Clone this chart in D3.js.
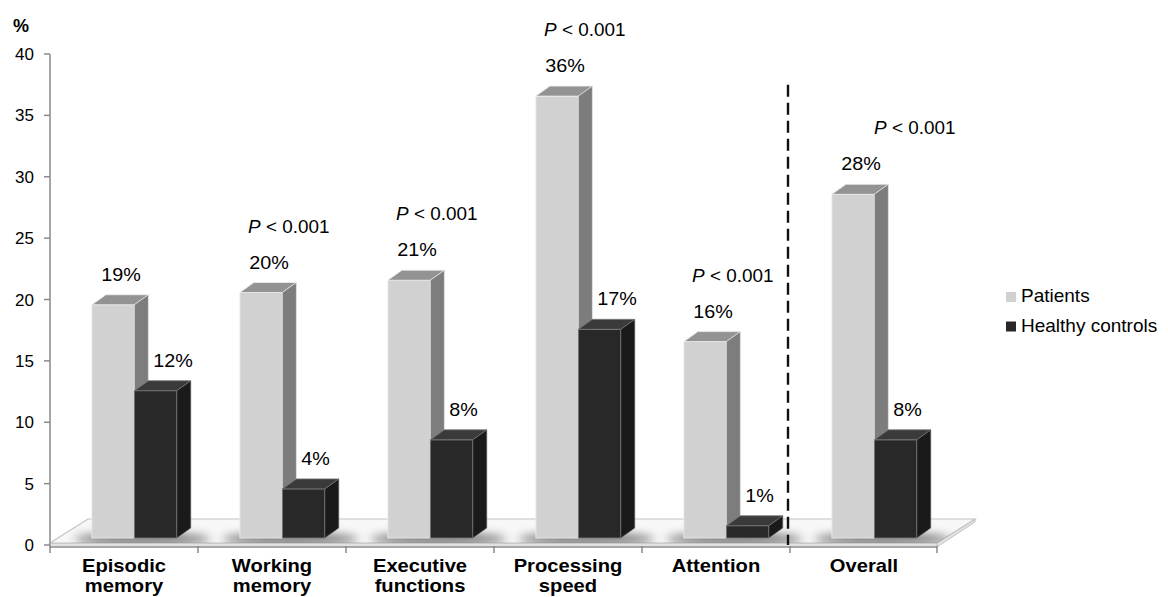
<!DOCTYPE html>
<html>
<head>
<meta charset="utf-8">
<script src="https://cdn.jsdelivr.net/npm/d3@7"></script>
<style>
  html, body { margin: 0; padding: 0; background: #fff; }
  svg { display: block; font-family: "Liberation Sans", Arial, sans-serif; }
</style>
</head>
<body>
<svg id="chart" width="1168" height="597"></svg>
<script>
// Cognitive impairment rates by domain
const categories = ["Episodic memory", "Working memory", "Executive functions", "Processing speed", "Attention", "Overall"];
const patients = [19, 20, 21, 36, 16, 28];
const controls = [12, 4, 8, 17, 1, 8];
const pLabels = [null, "< 0.001", "< 0.001", "< 0.001", "< 0.001", "< 0.001"];
const yTicks = [0, 5, 10, 15, 20, 25, 30, 35, 40];
const seriesNames = ["Patients", "Healthy controls"];

const svg = d3.select("#chart");

const x = d3.scaleBand().domain(categories).range([50, 938]).paddingInner(0).paddingOuter(0);
const y = d3.scaleLinear().domain([0, 40]).range([545, 54]);

// 3D geometry
const lift = 7;            // bars stand a little behind the front edge of the floor
const depth = { dx: 14, dy: -10 };
const barW = x.bandwidth() * 0.287;
const barOff = x.bandwidth() * 0.283;
const floorDepth = { dx: 38, dy: -24 };
const wide = 1.1;          // labels are set slightly wide

const colors = {
  light: { front: "#d1d1d1", top: "#939393", side: "#7d7d7d", edge: "#ececec" },
  dark:  { front: "#282828", top: "#3a3a3a", side: "#1a1a1a", edge: "#7a7a7a" }
};

// text placed at (px, py) and widened horizontally around its anchor
function wideText(g, px, py, sx) {
  return g.append("text").attr("transform", `translate(${px},${py}) scale(${sx},1)`);
}

const defs = svg.append("defs");
defs.append("filter").attr("id", "soft").attr("x", "-50%").attr("y", "-200%").attr("width", "200%").attr("height", "500%")
  .append("feGaussianBlur").attr("stdDeviation", 5);

// Floor
const fx0 = x.range()[0], fx1 = x.range()[1] - 1, fy = y(0) - 2;
const floorPts = [[fx0, fy], [fx1, fy], [fx1 + floorDepth.dx, fy + floorDepth.dy], [fx0 + floorDepth.dx, fy + floorDepth.dy]];
defs.append("clipPath").attr("id", "floorClip").append("polygon").attr("points", floorPts.map(p => p.join(",")).join(" "));

svg.append("polygon")
  .attr("points", [[fx0, fy], [fx1, fy], [fx1, fy + 4], [fx0, fy + 4]].map(p => p.join(",")).join(" "))
  .attr("fill", "#e2e2e2").attr("stroke", "#c4c4c4").attr("stroke-width", 1);
svg.append("polygon")
  .attr("points", [[fx1, fy], [fx1 + floorDepth.dx, fy + floorDepth.dy], [fx1 + floorDepth.dx, fy + floorDepth.dy + 3], [fx1, fy + 4]].map(p => p.join(",")).join(" "))
  .attr("fill", "#e2e2e2").attr("stroke", "#c4c4c4").attr("stroke-width", 1);
svg.append("polygon")
  .attr("points", floorPts.map(p => p.join(",")).join(" "))
  .attr("fill", "#f7f7f7").attr("stroke", "#c4c4c4").attr("stroke-width", 1.2);

// Soft shadows cast on the floor by each pair of bars
svg.append("g").attr("clip-path", "url(#floorClip)")
  .selectAll("ellipse").data(categories).join("ellipse")
  .attr("cx", d => x(d) + barOff + barW + 8)
  .attr("cy", y(0) - lift + 1)
  .attr("rx", barW * 1.6)
  .attr("ry", 6)
  .attr("fill", "#444")
  .attr("opacity", 0.7)
  .attr("filter", "url(#soft)");

// Axes
svg.append("line").attr("x1", 50).attr("x2", 50).attr("y1", y(40)).attr("y2", y(0) + 2)
  .attr("stroke", "#a6a6a6").attr("stroke-width", 2);
svg.append("line").attr("x1", fx0).attr("x2", fx1).attr("y1", y(0) + 2).attr("y2", y(0) + 2)
  .attr("stroke", "#a6a6a6").attr("stroke-width", 2);

const yAxis = svg.append("g").selectAll("g").data(yTicks).join("g");
yAxis.append("line").attr("x1", 44).attr("x2", 50).attr("y1", d => y(d)).attr("y2", d => y(d))
  .attr("stroke", "#8a8a8a").attr("stroke-width", 1.5);
yAxis.append("text").attr("x", 34).attr("y", d => y(d)).attr("dy", "0.36em")
  .attr("text-anchor", "end").attr("font-size", 17).attr("fill", "#000").text(d => d);

svg.append("text").attr("x", 13).attr("y", 32).attr("font-size", 18).attr("font-weight", "bold")
  .attr("fill", "#000").text("%");

// Category boundary ticks
const bounds = categories.map(c => x(c)).concat([x.range()[1] - 1]);
svg.append("g").selectAll("line").data(bounds).join("line")
  .attr("x1", d => d).attr("x2", d => d).attr("y1", y(0) + 1).attr("y2", y(0) + 8)
  .attr("stroke", "#8a8a8a").attr("stroke-width", 1.5);

// Category labels, one word per line
const catG = svg.append("g").attr("font-size", 18).attr("font-weight", "bold").attr("fill", "#000");
categories.forEach(c => {
  c.split(" ").forEach((w, i) => {
    wideText(catG, x(c) + x.bandwidth() / 2, 572 + i * 20, 1.12)
      .attr("text-anchor", "middle").text(w);
  });
});

// 3D bar drawing
function bar3d(g, x0, w, v, pal) {
  const yt = y(v) - lift, yb = y(0) - lift;
  const { dx, dy } = depth;
  g.append("rect").attr("x", x0).attr("y", yt).attr("width", w).attr("height", yb - yt)
    .attr("fill", pal.front).attr("stroke", pal.edge).attr("stroke-width", 0.8);
  g.append("polygon")
    .attr("points", [[x0, yt], [x0 + w, yt], [x0 + w + dx, yt + dy], [x0 + dx, yt + dy]].map(p => p.join(",")).join(" "))
    .attr("fill", pal.top).attr("stroke", pal.edge).attr("stroke-width", 0.8);
  g.append("polygon")
    .attr("points", [[x0 + w, yt], [x0 + w + dx, yt + dy], [x0 + w + dx, yb + dy], [x0 + w, yb]].map(p => p.join(",")).join(" "))
    .attr("fill", pal.side).attr("stroke", pal.edge).attr("stroke-width", 0.6);
}

const bars = svg.append("g");
categories.forEach((c, i) => {
  const g = bars.append("g");
  bar3d(g, x(c) + barOff, barW, patients[i], colors.light);
  bar3d(g, x(c) + barOff + barW, barW, controls[i], colors.dark);
});

// Value labels and significance notes
const labels = svg.append("g").attr("font-size", 18).attr("fill", "#000");
categories.forEach((c, i) => {
  const lx = x(c) + barOff + barW / 2 + 8;
  const ly = y(patients[i]) - lift - 24;
  wideText(labels, lx, ly, wide).attr("text-anchor", "middle").text(patients[i] + "%");
  wideText(labels, x(c) + barOff + barW + 19, y(controls[i]) - lift - 24, wide).text(controls[i] + "%");
  if (pLabels[i]) {
    const shift = c === "Overall" ? 34 : 0;
    const t = wideText(labels, lx - 21 + shift, ly - 36, 1.05);
    t.append("tspan").attr("font-style", "italic").text("P");
    t.append("tspan").text(" " + pLabels[i]);
  }
});

// Divider between domain results and the overall score
const divX = x("Overall") - 2;
svg.append("line").attr("x1", divX).attr("x2", divX).attr("y1", y(37.5)).attr("y2", y(0))
  .attr("stroke", "#111").attr("stroke-width", 2.4).attr("stroke-dasharray", "12,6");

// Legend
const legend = svg.append("g").selectAll("g").data(seriesNames).join("g")
  .attr("transform", (d, i) => `translate(1006, ${292 + i * 29.5})`);
legend.append("rect").attr("width", 10).attr("height", 10)
  .attr("fill", (d, i) => i === 0 ? colors.light.front : colors.dark.front);
legend.append("text").attr("x", 15).attr("y", 10).attr("font-size", 19).attr("fill", "#000").text(d => d);
</script>
</body>
</html>
